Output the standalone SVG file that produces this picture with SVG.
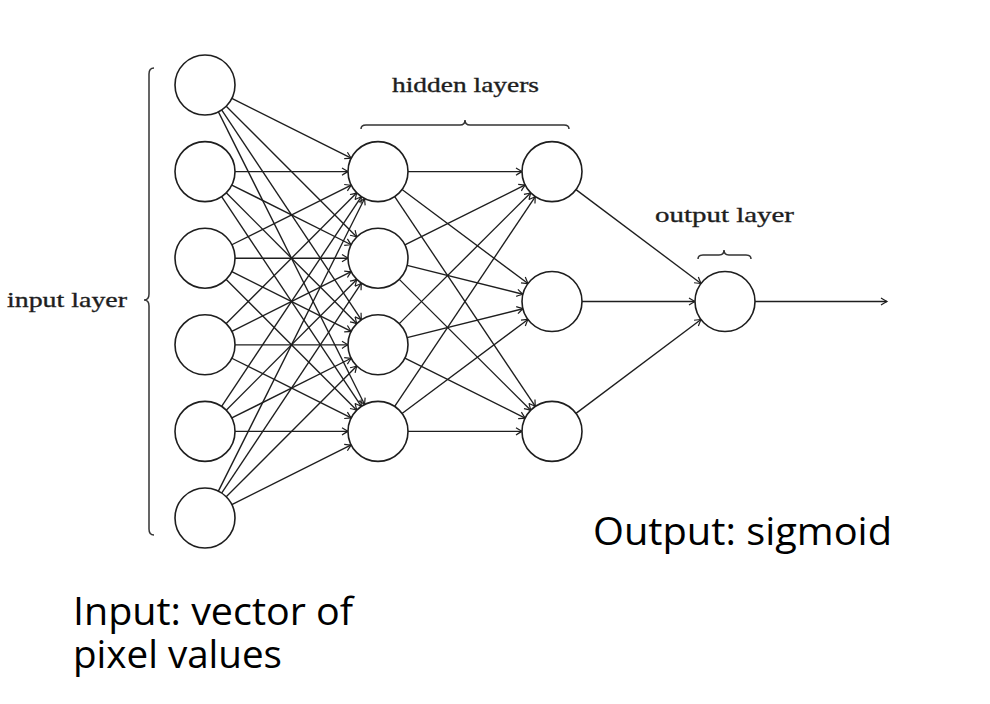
<svg xmlns="http://www.w3.org/2000/svg" width="990" height="704" viewBox="0 0 990 704">
<style>
.node{fill:#fff;stroke:#1e1e1e;stroke-width:1.6}
.edge{stroke:#1e1e1e;stroke-width:1.35;fill:none;marker-end:url(#arr)}
.brace{stroke:#333;stroke-width:1.5;fill:none}
.tex{font-family:"Liberation Serif","DejaVu Serif",serif;font-size:22px;fill:#1e1e1e;stroke:#1e1e1e;stroke-width:0.35}
.note{font-family:"Open Sans","Noto Sans",sans-serif;font-size:38px;fill:#000}
</style>
<defs>
<marker id="arr" markerUnits="userSpaceOnUse" markerWidth="12" markerHeight="12" viewBox="-7 -6 8 12" refX="0" refY="0" orient="auto">
<path d="M-6,-3.6 Q-1.5,-0.8 0,0 Q-1.5,0.8 -6,3.6" fill="none" stroke="#1e1e1e" stroke-width="1.2"/>
</marker>
</defs>
<rect width="990" height="704" fill="#fff"/>
<g id="connectors">
<line class="edge" x1="231.83" y1="98.43" x2="351.17" y2="158.17"/>
<line class="edge" x1="226.2" y1="106.23" x2="356.8" y2="236.97"/>
<line class="edge" x1="221.63" y1="109.97" x2="361.37" y2="319.83"/>
<line class="edge" x1="218.4" y1="111.84" x2="364.6" y2="404.56"/>
<line class="edge" x1="235" y1="171.6" x2="348" y2="171.6"/>
<line class="edge" x1="231.83" y1="185.03" x2="351.17" y2="244.77"/>
<line class="edge" x1="226.2" y1="192.83" x2="356.8" y2="323.57"/>
<line class="edge" x1="221.63" y1="196.57" x2="361.37" y2="406.43"/>
<line class="edge" x1="231.83" y1="244.77" x2="351.17" y2="185.03"/>
<line class="edge" x1="235" y1="258.2" x2="348" y2="258.2"/>
<line class="edge" x1="231.83" y1="271.63" x2="351.17" y2="331.37"/>
<line class="edge" x1="226.2" y1="279.43" x2="356.8" y2="410.17"/>
<line class="edge" x1="226.2" y1="323.57" x2="356.8" y2="192.83"/>
<line class="edge" x1="231.83" y1="331.37" x2="351.17" y2="271.63"/>
<line class="edge" x1="235" y1="344.8" x2="348" y2="344.8"/>
<line class="edge" x1="231.83" y1="358.23" x2="351.17" y2="417.97"/>
<line class="edge" x1="221.63" y1="406.43" x2="361.37" y2="196.57"/>
<line class="edge" x1="226.2" y1="410.17" x2="356.8" y2="279.43"/>
<line class="edge" x1="231.83" y1="417.97" x2="351.17" y2="358.23"/>
<line class="edge" x1="235" y1="431.4" x2="348" y2="431.4"/>
<line class="edge" x1="218.4" y1="491.16" x2="364.6" y2="198.44"/>
<line class="edge" x1="221.63" y1="493.03" x2="361.37" y2="283.17"/>
<line class="edge" x1="226.2" y1="496.77" x2="356.8" y2="366.03"/>
<line class="edge" x1="231.83" y1="504.57" x2="351.17" y2="444.83"/>
<line class="edge" x1="408" y1="171.6" x2="522" y2="171.6"/>
<line class="edge" x1="402.04" y1="189.55" x2="527.96" y2="283.55"/>
<line class="edge" x1="394.69" y1="196.53" x2="535.31" y2="406.47"/>
<line class="edge" x1="404.86" y1="244.83" x2="525.14" y2="184.97"/>
<line class="edge" x1="407.11" y1="265.44" x2="522.89" y2="294.26"/>
<line class="edge" x1="399.26" y1="279.37" x2="530.74" y2="410.23"/>
<line class="edge" x1="399.26" y1="323.63" x2="530.74" y2="192.77"/>
<line class="edge" x1="407.11" y1="337.56" x2="522.89" y2="308.74"/>
<line class="edge" x1="404.86" y1="358.17" x2="525.14" y2="418.03"/>
<line class="edge" x1="394.69" y1="406.47" x2="535.31" y2="196.53"/>
<line class="edge" x1="402.04" y1="413.45" x2="527.96" y2="319.45"/>
<line class="edge" x1="408" y1="431.4" x2="522" y2="431.4"/>
<line class="edge" x1="575.99" y1="189.61" x2="701.01" y2="283.49"/>
<line class="edge" x1="582" y1="301.5" x2="695" y2="301.5"/>
<line class="edge" x1="575.99" y1="413.39" x2="701.01" y2="319.51"/>
<line class="edge" x1="755" y1="301.5" x2="887" y2="301.5"/>
</g>
<g id="input-layer">
<circle class="node" cx="205" cy="85" r="30"/>
<circle class="node" cx="205" cy="171.6" r="30"/>
<circle class="node" cx="205" cy="258.2" r="30"/>
<circle class="node" cx="205" cy="344.8" r="30"/>
<circle class="node" cx="205" cy="431.4" r="30"/>
<circle class="node" cx="205" cy="518" r="30"/>
</g>
<g id="hidden-layer-1">
<circle class="node" cx="378" cy="171.6" r="30"/>
<circle class="node" cx="378" cy="258.2" r="30"/>
<circle class="node" cx="378" cy="344.8" r="30"/>
<circle class="node" cx="378" cy="431.4" r="30"/>
</g>
<g id="hidden-layer-2">
<circle class="node" cx="552" cy="171.6" r="30"/>
<circle class="node" cx="552" cy="301.5" r="30"/>
<circle class="node" cx="552" cy="431.4" r="30"/>
</g>
<g id="output-layer">
<circle class="node" cx="725" cy="301.5" r="30"/>
</g>
<g id="braces">
<path class="brace" d="M154,68 Q149,68 149,74 L149,294 Q149,300 144,300 Q149,300 149,306 L149,529 Q149,535 154,535"/>
<path class="brace" d="M361,129 Q361,125 366,125 L460,125 Q465,125 465,120 Q465,125 470,125 L564,125 Q569,125 569,129"/>
<path class="brace" d="M698,259 Q698,255 703,255 L719,255 Q724,255 724,250 Q724,255 729,255 L746,255 Q751,255 751,259"/>
</g>
<g id="labels">
<text class="tex" x="7" y="307" textLength="120" lengthAdjust="spacingAndGlyphs">input layer</text>
<text class="tex" x="392" y="92" textLength="147" lengthAdjust="spacingAndGlyphs">hidden layers</text>
<text class="tex" x="655" y="222" textLength="139" lengthAdjust="spacingAndGlyphs">output layer</text>
<text class="note" x="593" y="545" textLength="299" lengthAdjust="spacingAndGlyphs">Output: sigmoid</text>
<text class="note"><tspan x="73" y="625" textLength="280" lengthAdjust="spacingAndGlyphs">Input: vector of</tspan><tspan x="73" y="668" textLength="209" lengthAdjust="spacingAndGlyphs">pixel values</tspan></text>
</g>
</svg>
